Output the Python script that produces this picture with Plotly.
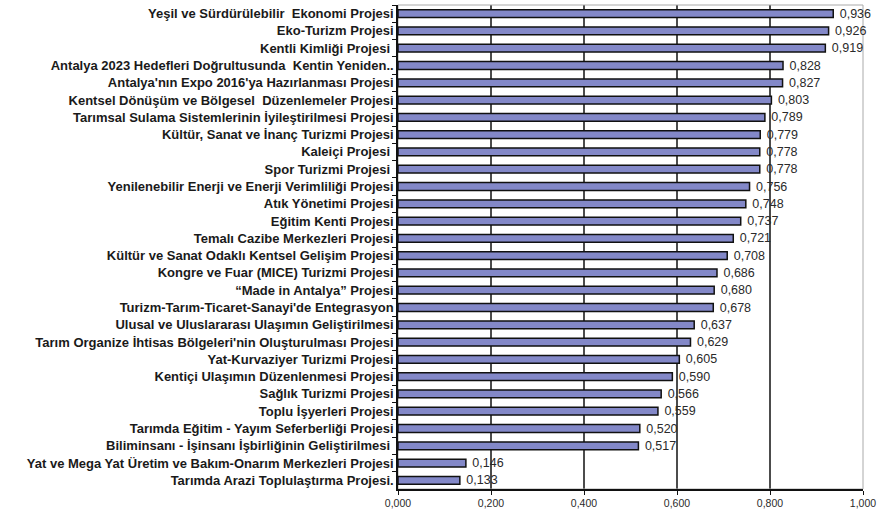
import plotly.graph_objects as go

categories = [
    "Yeşil ve Sürdürülebilir  Ekonomi Projesi",
    "Eko-Turizm Projesi",
    "Kentli Kimliği Projesi ",
    "Antalya 2023 Hedefleri Doğrultusunda  Kentin Yeniden..",
    "Antalya'nın Expo 2016'ya Hazırlanması Projesi",
    "Kentsel Dönüşüm ve Bölgesel  Düzenlemeler Projesi",
    "Tarımsal Sulama Sistemlerinin İyileştirilmesi Projesi",
    "Kültür, Sanat ve İnanç Turizmi Projesi",
    "Kaleiçi Projesi ",
    "Spor Turizmi Projesi ",
    "Yenilenebilir Enerji ve Enerji Verimliliği Projesi",
    "Atık Yönetimi Projesi",
    "Eğitim Kenti Projesi",
    "Temalı Cazibe Merkezleri Projesi",
    "Kültür ve Sanat Odaklı Kentsel Gelişim Projesi",
    "Kongre ve Fuar (MICE) Turizmi Projesi",
    "“Made in Antalya” Projesi",
    "Turizm-Tarım-Ticaret-Sanayi'de Entegrasyon",
    "Ulusal ve Uluslararası Ulaşımın Geliştirilmesi",
    "Tarım Organize İhtisas Bölgeleri'nin Oluşturulması Projesi",
    "Yat-Kurvaziyer Turizmi Projesi",
    "Kentiçi Ulaşımın Düzenlenmesi Projesi",
    "Sağlık Turizmi Projesi",
    "Toplu İşyerleri Projesi",
    "Tarımda Eğitim - Yayım Seferberliği Projesi",
    "Biliminsanı - İşinsanı İşbirliğinin Geliştirilmesi ",
    "Yat ve Mega Yat Üretim ve Bakım-Onarım Merkezleri Projesi",
    "Tarımda Arazi Toplulaştırma Projesi.",
]
values = [0.936, 0.926, 0.919, 0.828, 0.827, 0.803, 0.789, 0.779, 0.778, 0.778,
          0.756, 0.748, 0.737, 0.721, 0.708, 0.686, 0.680, 0.678, 0.637, 0.629,
          0.605, 0.590, 0.566, 0.559, 0.520, 0.517, 0.146, 0.133]
x_ticks = [0.0, 0.2, 0.4, 0.6, 0.8, 1.0]

FONT = "Liberation Sans, Arial, sans-serif"

fig = go.Figure(go.Bar(
    y=categories, x=values, orientation="h",
    marker=dict(color="#8388c8", line=dict(color="#111111", width=1.5)),
    text=["\u00a0" + f"{v:.3f}".replace(".", ",") for v in values],
    textposition="outside",
    constraintext="none",
    textfont=dict(family=FONT, size=12.5, color="#2a2a2a"),
    cliponaxis=False,
))

shapes = [dict(type="line", xref="x", yref="paper", x0=t, x1=t, y0=0, y1=1,
               line=dict(color="#111111", width=1.5), layer="below")
          for t in x_ticks[1:-1]]
shapes.append(dict(type="rect", xref="paper", yref="paper", x0=0, x1=1, y0=0, y1=1,
                   line=dict(color="#aaaaaa", width=1), layer="below"))

fig.update_layout(
    width=884, height=514,
    margin=dict(l=398, r=21, t=5, b=25, autoexpand=False),
    paper_bgcolor="white", plot_bgcolor="white",
    separators=",.",
    bargap=0.55,
    showlegend=False,
    shapes=shapes,
    font=dict(family=FONT, color="#1a1a1a"),
    xaxis=dict(range=[0, 1.0], tickvals=x_ticks, tickformat=".3f",
               showgrid=False, zeroline=False, automargin=False,
               showline=True, linecolor="#111111", linewidth=1.5,
               ticks="outside", ticklen=4, tickcolor="#111111",
               tickfont=dict(family=FONT, size=10.5, color="#2a2a2a")),
    yaxis=dict(autorange="reversed", showgrid=False, automargin=False,
               showline=True, linecolor="#111111", linewidth=1.5,
               ticks="outside", ticklen=4, tickcolor="#111111", tickson="boundaries",
               tickfont=dict(family=FONT, size=13, color="#1a1a1a", weight="bold")),
)

fig.write_html("out.html",
               config={"displayModeBar": False},
               post_script="document.body.style.margin='0';document.body.style.overflow='hidden';")
